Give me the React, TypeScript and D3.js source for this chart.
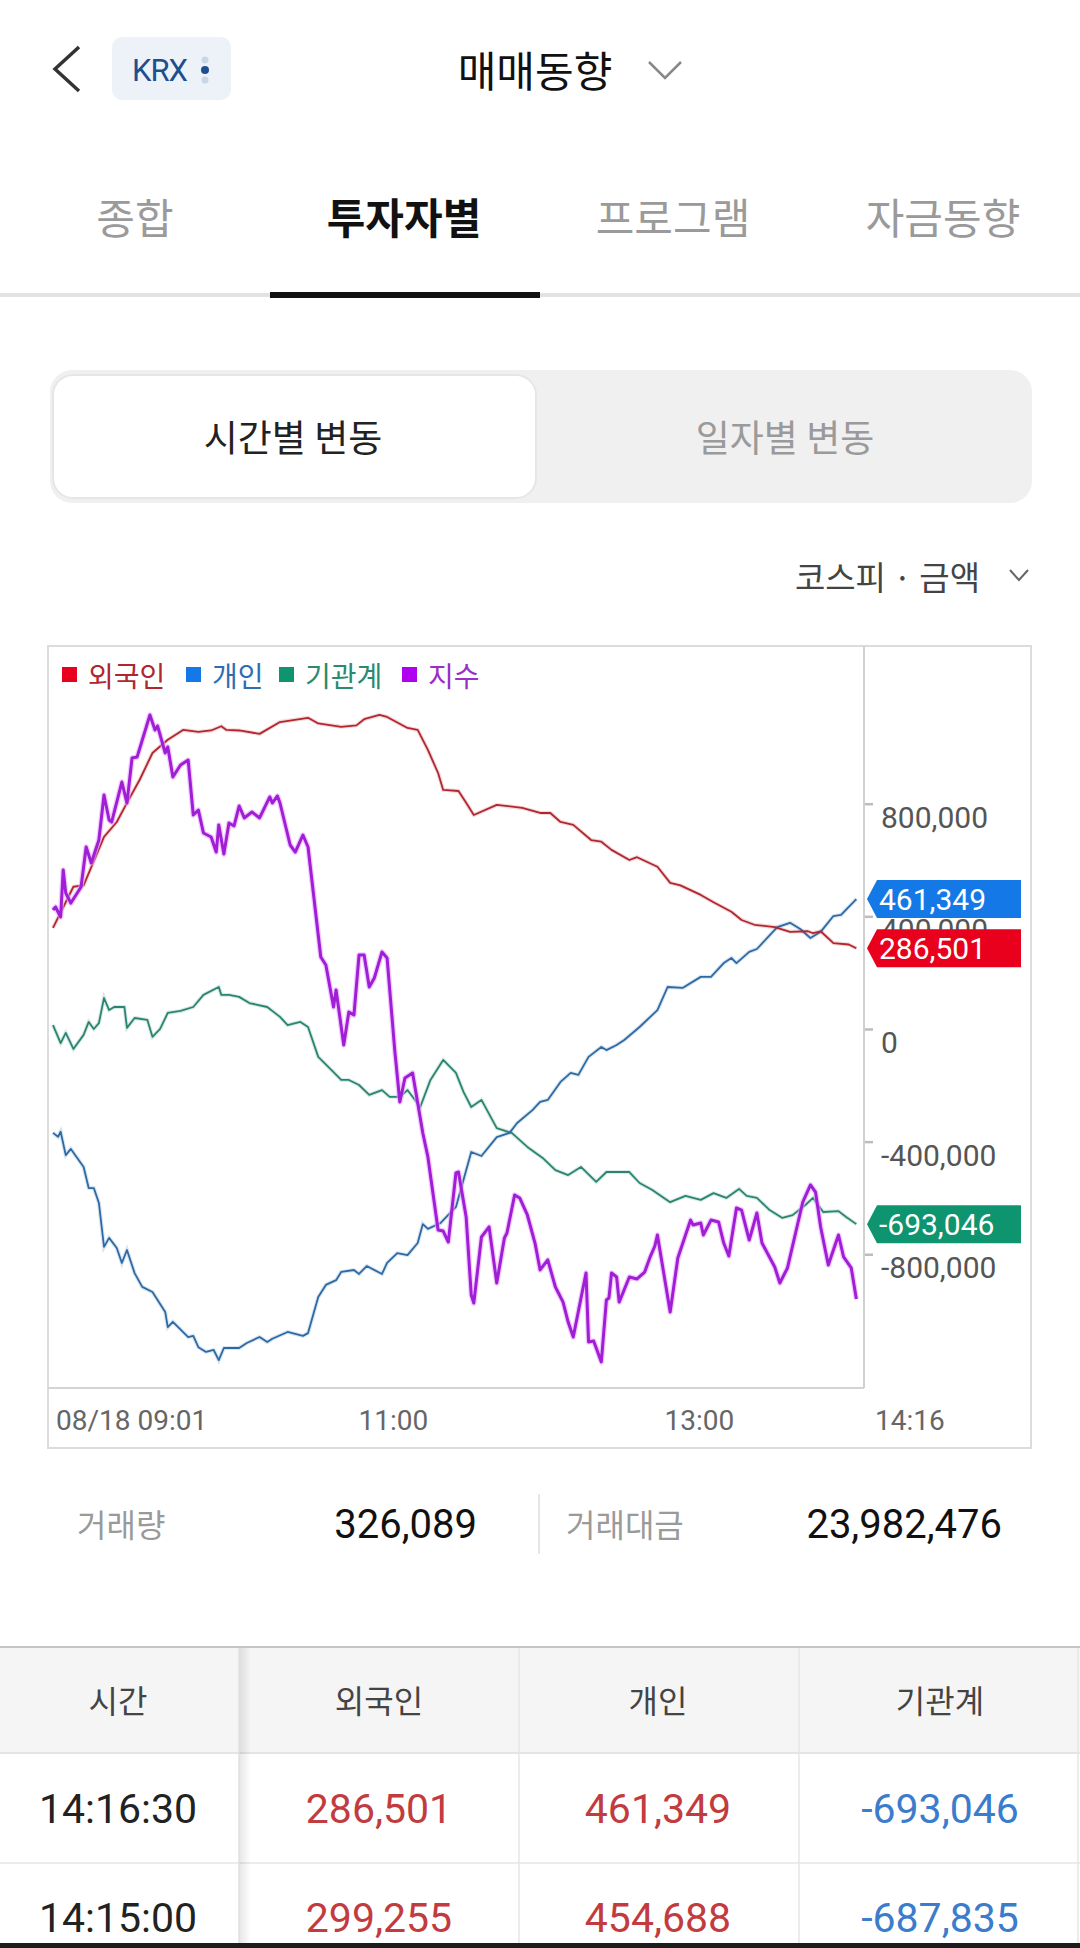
import * as d3 from "d3";
import { useEffect, useRef } from "react";

type Pt = [string, number];

// 외국인 (foreign) net buying
const foreignSeries: Pt[] = [
  ["09:01", 359000], ["09:09", 505000], ["09:13", 510000], ["09:21", 682000], ["09:26", 735000],
  ["09:30", 803000], ["09:35", 885000], ["09:40", 980000], ["09:46", 1027000], ["09:52", 1062000],
  ["09:58", 1055000], ["10:03", 1060000], ["10:07", 1075000], ["10:09", 1062000], ["10:14", 1060000],
  ["10:22", 1048000], ["10:30", 1090000], ["10:41", 1105000], ["10:45", 1085000], ["10:54", 1073000],
  ["11:00", 1078000], ["11:03", 1100000], ["11:09", 1115000], ["11:12", 1108000], ["11:20", 1069000],
  ["11:24", 1062000], ["11:28", 991000], ["11:32", 909000], ["11:34", 849000], ["11:40", 845000],
  ["11:43", 803000], ["11:46", 760000], ["11:55", 796000], ["12:05", 785000], ["12:12", 767000],
  ["12:16", 767000], ["12:20", 735000], ["12:25", 725000], ["12:32", 671000], ["12:36", 665000],
  ["12:40", 636000], ["12:47", 600000], ["12:50", 610000], ["12:58", 576000], ["13:03", 519000],
  ["13:07", 510000], ["13:15", 476000], ["13:20", 450000], ["13:27", 416000], ["13:31", 387000],
  ["13:36", 370000], ["13:44", 362000], ["13:50", 345000], ["13:57", 347000], ["13:59", 340000],
  ["14:02", 347000], ["14:07", 305000], ["14:13", 300000], ["14:16", 286501],
];

// 개인 (individual) net buying
const individualSeries: Pt[] = [
  ["09:01", -369000], ["09:03", -383000], ["09:04", -365000], ["09:06", -448000], ["09:08", -426000],
  ["09:13", -490000], ["09:15", -565000], ["09:17", -565000], ["09:19", -618000], ["09:21", -774000],
  ["09:23", -742000], ["09:26", -778000], ["09:28", -831000], ["09:30", -785000], ["09:33", -867000],
  ["09:36", -916000], ["09:40", -934000], ["09:45", -1005000], ["09:46", -1059000], ["09:48", -1040000],
  ["09:54", -1094000], ["09:56", -1090000], ["09:58", -1130000], ["10:01", -1147000], ["10:04", -1140000],
  ["10:06", -1176000], ["10:08", -1133000], ["10:14", -1133000], ["10:17", -1115000], ["10:22", -1094000],
  ["10:25", -1112000], ["10:27", -1100000], ["10:33", -1076000], ["10:39", -1090000], ["10:41", -1080000],
  ["10:45", -952000], ["10:48", -909000], ["10:52", -892000], ["10:54", -863000], ["10:59", -856000],
  ["11:01", -870000], ["11:04", -842000], ["11:10", -870000], ["11:12", -831000], ["11:16", -796000],
  ["11:20", -803000], ["11:24", -760000], ["11:26", -693000], ["11:28", -710000], ["11:33", -689000],
  ["11:39", -632000], ["11:45", -437000], ["11:49", -451000], ["11:55", -384000], ["12:00", -369000],
  ["12:03", -334000], ["12:09", -288000], ["12:12", -259000], ["12:15", -252000], ["12:20", -188000],
  ["12:24", -156000], ["12:27", -163000], ["12:31", -99000], ["12:36", -64000], ["12:38", -75000],
  ["12:42", -57000], ["12:45", -39000], ["12:51", 7000], ["12:58", 67000], ["13:02", 149000],
  ["13:08", 146000], ["13:15", 185000], ["13:19", 185000], ["13:24", 234000], ["13:27", 252000],
  ["13:29", 234000], ["13:34", 274000], ["13:37", 284000], ["13:45", 362000], ["13:50", 377000],
  ["13:54", 355000], ["13:58", 323000], ["14:02", 345000], ["14:07", 401000], ["14:10", 405000],
  ["14:16", 461349],
];

// 기관계 (institutions) net buying
const institutionSeries: Pt[] = [
  ["09:01", 14000], ["09:04", -50000], ["09:06", -14000], ["09:09", -71000], ["09:13", -21000],
  ["09:15", 25000], ["09:17", 0], ["09:19", 21000], ["09:21", 110000], ["09:23", 67000],
  ["09:25", 78000], ["09:29", 78000], ["09:30", 4000], ["09:33", 39000], ["09:38", 32000],
  ["09:40", -28000], ["09:43", 0], ["09:46", 57000], ["09:51", 64000], ["09:56", 78000],
  ["10:00", 121000], ["10:06", 149000], ["10:07", 121000], ["10:10", 121000], ["10:14", 114000],
  ["10:18", 92000], ["10:25", 78000], ["10:30", 43000], ["10:33", 14000], ["10:38", 25000],
  ["10:41", 7000], ["10:45", -99000], ["10:51", -153000], ["10:54", -181000], ["10:57", -181000],
  ["11:01", -199000], ["11:05", -234000], ["11:10", -217000], ["11:13", -241000], ["11:17", -241000],
  ["11:20", -217000], ["11:25", -277000], ["11:29", -181000], ["11:34", -110000], ["11:39", -156000],
  ["11:42", -224000], ["11:45", -277000], ["11:49", -252000], ["11:55", -352000], ["12:01", -370000],
  ["12:07", -419000], ["12:13", -458000], ["12:18", -501000], ["12:23", -519000], ["12:28", -490000],
  ["12:34", -543000], ["12:38", -508000], ["12:47", -508000], ["12:51", -547000], ["12:56", -572000],
  ["13:03", -615000], ["13:09", -593000], ["13:15", -607000], ["13:20", -583000], ["13:25", -600000],
  ["13:30", -568000], ["13:33", -593000], ["13:37", -600000], ["13:42", -643000], ["13:47", -671000],
  ["13:51", -661000], ["13:56", -625000], ["13:59", -600000], ["14:03", -650000], ["14:09", -647000],
  ["14:12", -668000], ["14:16", -693046],
];

// 지수 (KOSPI index), own hidden scale
const indexSeries: Pt[] = [
  ["09:01", 2517.93], ["09:02", 2518.11], ["09:04", 2517.5], ["09:05", 2520.37], ["09:06", 2518.96],
  ["09:08", 2518.35], ["09:12", 2519.33], ["09:14", 2521.77], ["09:16", 2520.79], ["09:19", 2522.2],
  ["09:21", 2524.94], ["09:23", 2523.41], ["09:24", 2523.29], ["09:28", 2525.73], ["09:30", 2524.45],
  ["09:32", 2527.2], ["09:34", 2527.26], ["09:39", 2529.82], ["09:41", 2528.9], ["09:42", 2529.15],
  ["09:45", 2527.5], ["09:46", 2527.87], ["09:48", 2526.04], ["09:51", 2526.77], ["09:54", 2527.07],
  ["09:56", 2523.72], ["09:58", 2524.02], ["10:00", 2522.62], ["10:03", 2522.38], ["10:05", 2521.46],
  ["10:06", 2523.11], ["10:08", 2521.34], ["10:10", 2523.23], ["10:12", 2523.05], ["10:14", 2524.27],
  ["10:16", 2523.54], ["10:19", 2523.9], ["10:22", 2523.54], ["10:26", 2524.82], ["10:27", 2524.45],
  ["10:29", 2524.88], ["10:30", 2524.45], ["10:34", 2521.89], ["10:36", 2521.46], ["10:39", 2522.5],
  ["10:41", 2521.77], ["10:46", 2515.06], ["10:48", 2514.57], ["10:51", 2512.01], ["10:52", 2513.05],
  ["10:55", 2509.7], ["10:57", 2511.71], ["10:59", 2511.52], ["11:01", 2515.18], ["11:03", 2515.18],
  ["11:05", 2513.23], ["11:07", 2513.78], ["11:10", 2515.37], ["11:12", 2515.0], ["11:15", 2509.39],
  ["11:17", 2506.22], ["11:19", 2507.68], ["11:22", 2507.99], ["11:26", 2504.33], ["11:28", 2502.87],
  ["11:32", 2498.41], ["11:34", 2498.35], ["11:36", 2497.68], ["11:39", 2501.89], ["11:40", 2501.95],
  ["11:43", 2499.21], ["11:45", 2494.45], ["11:46", 2493.96], ["11:49", 2497.99], ["11:52", 2498.6],
  ["11:55", 2495.18], ["11:58", 2497.93], ["11:59", 2498.23], ["12:02", 2500.55], ["12:04", 2500.37],
  ["12:07", 2499.33], ["12:10", 2497.62], ["12:12", 2495.98], ["12:15", 2496.59], ["12:18", 2494.94],
  ["12:21", 2494.02], ["12:23", 2492.8], ["12:25", 2491.89], ["12:30", 2495.79], ["12:31", 2491.59],
  ["12:33", 2491.65], ["12:36", 2490.37], ["12:38", 2494.15], ["12:39", 2494.27], ["12:40", 2495.79],
  ["12:42", 2495.55], ["12:43", 2494.02], ["12:47", 2495.55], ["12:50", 2495.43], ["12:53", 2495.85],
  ["12:55", 2496.71], ["12:57", 2497.44], ["12:58", 2498.11], ["13:03", 2493.41], ["13:06", 2496.71],
  ["13:11", 2499.02], ["13:12", 2498.72], ["13:15", 2498.84], ["13:16", 2498.11], ["13:19", 2499.02],
  ["13:22", 2498.9], ["13:24", 2497.62], ["13:26", 2496.83], ["13:29", 2499.76], ["13:31", 2499.63],
  ["13:34", 2497.8], ["13:37", 2499.45], ["13:39", 2497.62], ["13:44", 2496.16], ["13:46", 2495.18],
  ["13:49", 2496.1], ["13:55", 2500.12], ["13:58", 2501.16], ["14:00", 2500.73], ["14:02", 2498.6],
  ["14:05", 2496.28], ["14:09", 2498.11], ["14:11", 2496.77], ["14:14", 2496.1], ["14:16", 2494.21],
];

const yTicks = [-800000, -400000, 0, 400000, 800000];
const xTickTimes = ["09:01", "11:00", "13:00", "14:16"];
const xTickLabels = ["08/18 09:01", "11:00", "13:00", "14:16"];

const legendItems = [
  { label: "외국인", box: "#e8001c", text: "#b0262e" },
  { label: "개인", box: "#1478e6", text: "#2f6db0" },
  { label: "기관계", box: "#0f9470", text: "#2a8a70" },
  { label: "지수", box: "#b000f0", text: "#9a2ec8" },
];

const tabs = ["종합", "투자자별", "프로그램", "자금동향"];
const tableHead = ["시간", "외국인", "개인", "기관계"];
const tableRows: [string, number, number, number][] = [
  ["14:16:30", 286501, 461349, -693046],
  ["14:15:00", 299255, 454688, -687835],
];
const volume = 326089;
const tradeValue = 23982476;

const KR = "'Noto Sans CJK KR', sans-serif";
const NUM = "Roboto, 'Noto Sans CJK KR', sans-serif";

// plain hyphen for negatives, as in the app
const fmt = d3.formatLocale({ decimal: ".", thousands: ",", grouping: [3], currency: ["", ""], minus: "-" }).format(",");

export default function App() {
  const chartRef = useRef<SVGGElement | null>(null);

  useEffect(() => {
    const parse = d3.timeParse("%H:%M");
    const box = { left: 48, top: 646, right: 1031, bottom: 1448 };
    const plot = { left: 53, right: 864, top: 646, bottom: 1388 };

    const x = d3
      .scaleTime()
      .domain([parse("09:01")!, parse("14:19")!])
      .range([plot.left, plot.right]);
    const y = d3.scaleLinear().domain([-1275000, 1360000]).range([plot.bottom, plot.top]);
    const yIdx = d3.scaleLinear().domain([2490, 2530]).range([1368, 712]);

    const g = d3.select(chartRef.current);
    g.selectAll("*").remove();

    // frame
    g.append("rect")
      .attr("x", box.left)
      .attr("y", box.top)
      .attr("width", box.right - box.left)
      .attr("height", box.bottom - box.top)
      .attr("fill", "#fff")
      .attr("stroke", "#dcdcdc")
      .attr("stroke-width", 2);

    // x baseline
    g.append("line")
      .attr("x1", box.left)
      .attr("x2", plot.right)
      .attr("y1", plot.bottom)
      .attr("y2", plot.bottom)
      .attr("stroke", "#d4d4d4")
      .attr("stroke-width", 2);

    // right axis
    const yAxis = g
      .append("g")
      .attr("transform", `translate(${plot.right},0)`)
      .call(
        d3
          .axisRight(y)
          .tickValues(yTicks)
          .tickSize(9)
          .tickSizeOuter(0)
          .tickPadding(8)
          .tickFormat(d => fmt(d as number))
      );
    yAxis.select(".domain").remove();
    yAxis.selectAll("line").attr("stroke", "#bdbdbd").attr("stroke-width", 2.5);
    yAxis
      .selectAll("text")
      .attr("fill", "#555")
      .attr("font-size", 30)
      .attr("font-family", NUM)
      .attr("dy", "0.78em");
    g.append("line")
      .attr("x1", plot.right)
      .attr("x2", plot.right)
      .attr("y1", box.top)
      .attr("y2", plot.bottom)
      .attr("stroke", "#d0d0d0")
      .attr("stroke-width", 2);

    // x labels
    xTickTimes.forEach((t, i) => {
      const last = i === xTickTimes.length - 1;
      const px = last ? plot.right + 11 : x(parse(t)!) + (i === 0 ? 3 : 2);
      g.append("text")
        .attr("x", px)
        .attr("y", 1430)
        .attr("fill", "#666")
        .attr("font-size", 28)
        .attr("font-family", NUM)
        .text(xTickLabels[i]);
    });

    // legend
    const legendX = [62, 186, 279, 402];
    legendItems.forEach((item, i) => {
      const lx = legendX[i];
      g.append("rect")
        .attr("x", lx)
        .attr("y", 667)
        .attr("width", 15)
        .attr("height", 15)
        .attr("fill", item.box);
      g.append("text")
        .attr("x", lx + 26)
        .attr("y", 675)
        .attr("dominant-baseline", "central")
        .attr("fill", item.text)
        .attr("font-size", 28)
        .attr("font-family", KR)
        .text(item.label);
    });

    const line = d3
      .line<Pt>()
      .x(d => x(parse(d[0])!))
      .y(d => y(d[1]));
    const idxLine = d3
      .line<Pt>()
      .x(d => x(parse(d[0])!))
      .y(d => yIdx(d[1]));

    const series: [Pt[], string][] = [
      [institutionSeries, "#2a8570"],
      [individualSeries, "#2d6aa5"],
      [foreignSeries, "#b3262f"],
    ];
    series.forEach(([data, color]) => {
      g.append("path")
        .datum(data)
        .attr("d", line)
        .attr("fill", "none")
        .attr("stroke", color)
        .attr("stroke-opacity", 0.18)
        .attr("stroke-width", 4);
      g.append("path")
        .datum(data)
        .attr("d", line)
        .attr("fill", "none")
        .attr("stroke", color)
        .attr("stroke-width", 1.8)
        .attr("stroke-linejoin", "round");
    });

    g.append("path")
      .datum(indexSeries)
      .attr("d", idxLine)
      .attr("fill", "none")
      .attr("stroke", "#e7a8ff")
      .attr("stroke-opacity", 0.6)
      .attr("stroke-width", 5.5)
      .attr("stroke-linejoin", "round");
    g.append("path")
      .datum(indexSeries)
      .attr("d", idxLine)
      .attr("fill", "none")
      .attr("stroke", "#a01ed6")
      .attr("stroke-width", 3)
      .attr("stroke-linejoin", "round");

    // last-value tags
    const tags: [number, string][] = [
      [individualSeries[individualSeries.length - 1][1], "#1478e6"],
      [foreignSeries[foreignSeries.length - 1][1], "#e8001c"],
      [institutionSeries[institutionSeries.length - 1][1], "#0f9470"],
    ];
    tags.forEach(([v, color]) => {
      const cy = y(v);
      const x0 = 867;
      const x1 = 877;
      const x2 = 1021;
      const h = 19;
      g.append("path")
        .attr("d", `M${x0},${cy} L${x1},${cy - h} L${x2},${cy - h} L${x2},${cy + h} L${x1},${cy + h} Z`)
        .attr("fill", color);
      g.append("text")
        .attr("x", 879)
        .attr("y", cy + 11)
        .attr("fill", "#fff")
        .attr("font-size", 30)
        .attr("font-family", NUM)
        .text(fmt(v));
    });
  }, []);

  const tabCenters = [135, 404, 673, 943];
  const colCenters = [118, 379, 658, 940];

  return (
    <svg
      width={1080}
      height={1948}
      style={{ position: "absolute", left: 0, top: 0, display: "block", background: "#fff" }}
    >
      <defs>
        <linearGradient id="colShadow" x1="0" x2="1" y1="0" y2="0">
          <stop offset="0" stopColor="#000" stopOpacity={0.1} />
          <stop offset="1" stopColor="#000" stopOpacity={0} />
        </linearGradient>
      </defs>
      <rect x={0} y={0} width={1080} height={1948} fill="#fff" />

      {/* header */}
      <polyline points="79,47 55,69 79,91" fill="none" stroke="#333" strokeWidth={3.5} />
      <rect x={112} y={37} width={119} height={63} rx={10} fill="#edf2f9" />
      <text x={132} y={81} fontSize={31} fontFamily={NUM} fill="#1d4e8f" letterSpacing={-1}>
        KRX
      </text>
      <circle cx={205} cy={60} r={3.5} fill="#c9d6e7" />
      <circle cx={205} cy={70} r={4} fill="#1d4e8f" />
      <circle cx={205} cy={80} r={3.5} fill="#c9d6e7" />
      <text x={535} y={68} textAnchor="middle" dominantBaseline="central" fontSize={42} fontFamily={KR} fontWeight={400} fill="#111">
        매매동향
      </text>
      <polyline points="649,62 665,78 681,62" fill="none" stroke="#888" strokeWidth={2.5} />

      {/* tabs */}
      {tabs.map((t, i) => (
        <text
          key={t}
          x={tabCenters[i]}
          y={215}
          textAnchor="middle"
          dominantBaseline="central"
          fontSize={42}
          fontFamily={KR}
          fontWeight={i === 1 ? 700 : 400}
          fill={i === 1 ? "#111" : "#9a9a9a"}
        >
          {t}
        </text>
      ))}
      <rect x={0} y={293} width={1080} height={4} fill="#e2e2e2" />
      <rect x={270} y={292} width={270} height={6} fill="#111" />

      {/* segmented control */}
      <rect x={50} y={370} width={982} height={133} rx={22} fill="#f0f0f0" />
      <rect x={53} y={375} width={483} height={123} rx={20} fill="#fff" stroke="#e6e6e6" strokeWidth={2} />
      <text x={293} y={436} textAnchor="middle" dominantBaseline="central" fontSize={37} fontFamily={KR} fill="#222">
        시간별 변동
      </text>
      <text x={785} y={436} textAnchor="middle" dominantBaseline="central" fontSize={37} fontFamily={KR} fill="#9a9a9a">
        일자별 변동
      </text>

      <text x={980} y={576} textAnchor="end" dominantBaseline="central" fontSize={33} fontFamily={KR} fill="#444">
        코스피 · 금액
      </text>
      <polyline points="1010,570 1019,580 1028,570" fill="none" stroke="#666" strokeWidth={2} />

      {/* chart */}
      <g ref={chartRef} />

      {/* volume row */}
      <text x={77} y={1523} dominantBaseline="central" fontSize={32} fontFamily={KR} fill="#9a9a9a">
        거래량
      </text>
      <text x={477} y={1538} textAnchor="end" fontSize={40} fontFamily={NUM} fill="#111">
        {fmt(volume)}
      </text>
      <line x1={539} x2={539} y1={1494} y2={1554} stroke="#e6e6e6" strokeWidth={2} />
      <text x={566} y={1523} dominantBaseline="central" fontSize={32} fontFamily={KR} fill="#9a9a9a">
        거래대금
      </text>
      <text x={1002} y={1538} textAnchor="end" fontSize={40} fontFamily={NUM} fill="#111">
        {fmt(tradeValue)}
      </text>

      {/* table */}
      <rect x={0} y={1647} width={1080} height={106} fill="#f5f5f5" />
      <line x1={0} x2={1080} y1={1647} y2={1647} stroke="#c4c4c4" strokeWidth={2} />
      <line x1={0} x2={1080} y1={1753} y2={1753} stroke="#e4e4e4" strokeWidth={2} />
      <line x1={0} x2={1080} y1={1863} y2={1863} stroke="#ececec" strokeWidth={2} />
      {[519, 799].map(cx => (
        <line key={cx} x1={cx} x2={cx} y1={1648} y2={1948} stroke="#e6e6e6" strokeWidth={1.5} />
      ))}
      <line x1={1078} x2={1078} y1={1648} y2={1948} stroke="#e6e6e6" strokeWidth={1.5} />
      <rect x={239} y={1648} width={12} height={300} fill="url(#colShadow)" />
      <line x1={239} x2={239} y1={1648} y2={1948} stroke="#e0e0e0" strokeWidth={1.5} />
      {tableHead.map((h, i) => (
        <text key={h} x={colCenters[i]} y={1699} textAnchor="middle" dominantBaseline="central" fontSize={32} fontFamily={KR} fill="#444">
          {h}
        </text>
      ))}
      {tableRows.map((row, r) => {
        const cy = 1823 + r * 109;
        return (
          <g key={row[0]}>
            <text x={colCenters[0]} y={cy} textAnchor="middle" fontSize={41} fontFamily={NUM} fill="#222">
              {row[0]}
            </text>
            {[row[1], row[2], row[3]].map((v, j) => (
              <text
                key={j}
                x={colCenters[j + 1]}
                y={cy}
                textAnchor="middle"
                fontSize={41}
                fontFamily={NUM}
                fill={v >= 0 ? "#c23b3f" : "#3b7ccc"}
              >
                {fmt(v)}
              </text>
            ))}
          </g>
        );
      })}
      <rect x={0} y={1943} width={1080} height={5} fill="#1c1c1c" />
    </svg>
  );
}
